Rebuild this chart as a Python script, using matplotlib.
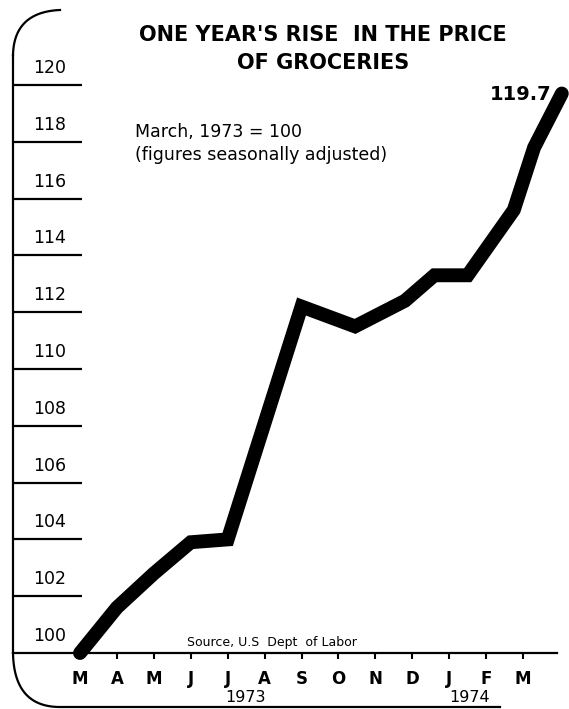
"""
One year's rise in the price of groceries, March 1973 = 100.
"""

import numpy as np
import matplotlib
matplotlib.use('Agg')
import matplotlib.pyplot as plt
from matplotlib.lines import Line2D

# months after March 1973
months = [0, 1, 2, 3, 4, 6, 7.45, 8.8, 9.6, 10.5, 11.75, 12.3, 13.05]
index = [100, 101.6, 102.8, 103.9, 104.0, 112.2, 111.5, 112.4, 113.3, 113.3,
         115.6, 117.8, 119.7]
month_labels = ['M', 'A', 'M', 'J', 'J', 'A', 'S', 'O', 'N', 'D', 'J', 'F', 'M']
y_levels = list(range(100, 121, 2))
years = ['1973', '1974']
year_pos = [4.47, 10.56]

W, H = 569, 709
PX_MONTH = 36.92
PX_UNIT = 28.4
X0_PX, Y0_PX = 80, 653   # pixel position of (March 1973, 100)


def px(x, y):
    return x / W, 1 - y / H


def bezier(p0, p1, p2, n=40):
    t = np.linspace(0, 1, n)[:, None]
    pts = (1 - t) ** 2 * np.array(p0) + 2 * (1 - t) * t * np.array(p1) + t ** 2 * np.array(p2)
    return pts[:, 0], pts[:, 1]


def main():
    plt.rcParams['font.family'] = ['DejaVu Sans']
    fig = plt.figure(figsize=(W / 100, H / 100), dpi=100)

    left_px, top_px, right_px = 13, 55, W
    ax = fig.add_axes([left_px / W, (H - Y0_PX) / H,
                       (right_px - left_px) / W, (Y0_PX - top_px) / H])
    x_left = (left_px - X0_PX) / PX_MONTH
    x_right = (right_px - X0_PX) / PX_MONTH
    ax.set_xlim(x_left, x_right)
    ax.set_ylim(100, 100 + (Y0_PX - top_px) / PX_UNIT)

    for side in ['top', 'right']:
        ax.spines[side].set_visible(False)
    ax.spines['left'].set_linewidth(1.6)
    ax.spines['bottom'].set_linewidth(1.6)
    ax.spines['bottom'].set_bounds(x_left, (557 - X0_PX) / PX_MONTH)

    ax.set_yticks([])
    ax.set_xticks(range(len(month_labels)))
    ax.set_xticklabels(month_labels, fontsize=12, fontweight='bold')
    ax.tick_params(axis='x', direction='out', length=4, width=1.5, pad=8)

    # short level lines with their labels above
    ax.hlines(y_levels[1:], 0, (82 - left_px) / (right_px - left_px),
              transform=ax.get_yaxis_transform(), colors='black', lw=1.6)
    for v in y_levels:
        ax.text((33 - X0_PX) / PX_MONTH, v + 0.6, str(v), fontsize=12.5,
                ha='left', va='center')

    ax.plot(months, index, color='black', lw=10, solid_joinstyle='miter',
            solid_capstyle='round', clip_on=False, zorder=5)
    ax.text(months[-1] - 0.28, index[-1] - 0.05, '119.7', fontsize=14,
            fontweight='bold', ha='right', va='center')

    ax.text(2.9, 100.15, 'Source, U.S  Dept  of Labor', fontsize=9,
            ha='left', va='bottom')
    for label, pos in zip(years, year_pos):
        ax.text(pos, 98.42, label, fontsize=11.5, ha='center', va='center')

    fig.text(*px(323, 35), "ONE YEAR'S RISE  IN THE PRICE", fontsize=15,
             fontweight='bold', ha='center', va='center')
    fig.text(*px(323, 63), 'OF GROCERIES', fontsize=15,
             fontweight='bold', ha='center', va='center')
    fig.text(*px(135, 132), 'March, 1973 = 100', fontsize=12.5,
             ha='left', va='center')
    fig.text(*px(135, 155), '(figures seasonally adjusted)', fontsize=12.5,
             ha='left', va='center')

    # rounded frame corners
    tx, ty = bezier((13, top_px), (14, 12), (60, 10))
    bx, by = bezier((13, Y0_PX), (14, 707), (60, 707))
    bx = np.append(bx, 500)
    by = np.append(by, 707)
    for xs, ys in [(tx, ty), (bx, by)]:
        fig.add_artist(Line2D(xs / W, 1 - ys / H, color='black', lw=1.6,
                              transform=fig.transFigure))

    fig.savefig('out.png', dpi=100)


if __name__ == "__main__":
    main()
